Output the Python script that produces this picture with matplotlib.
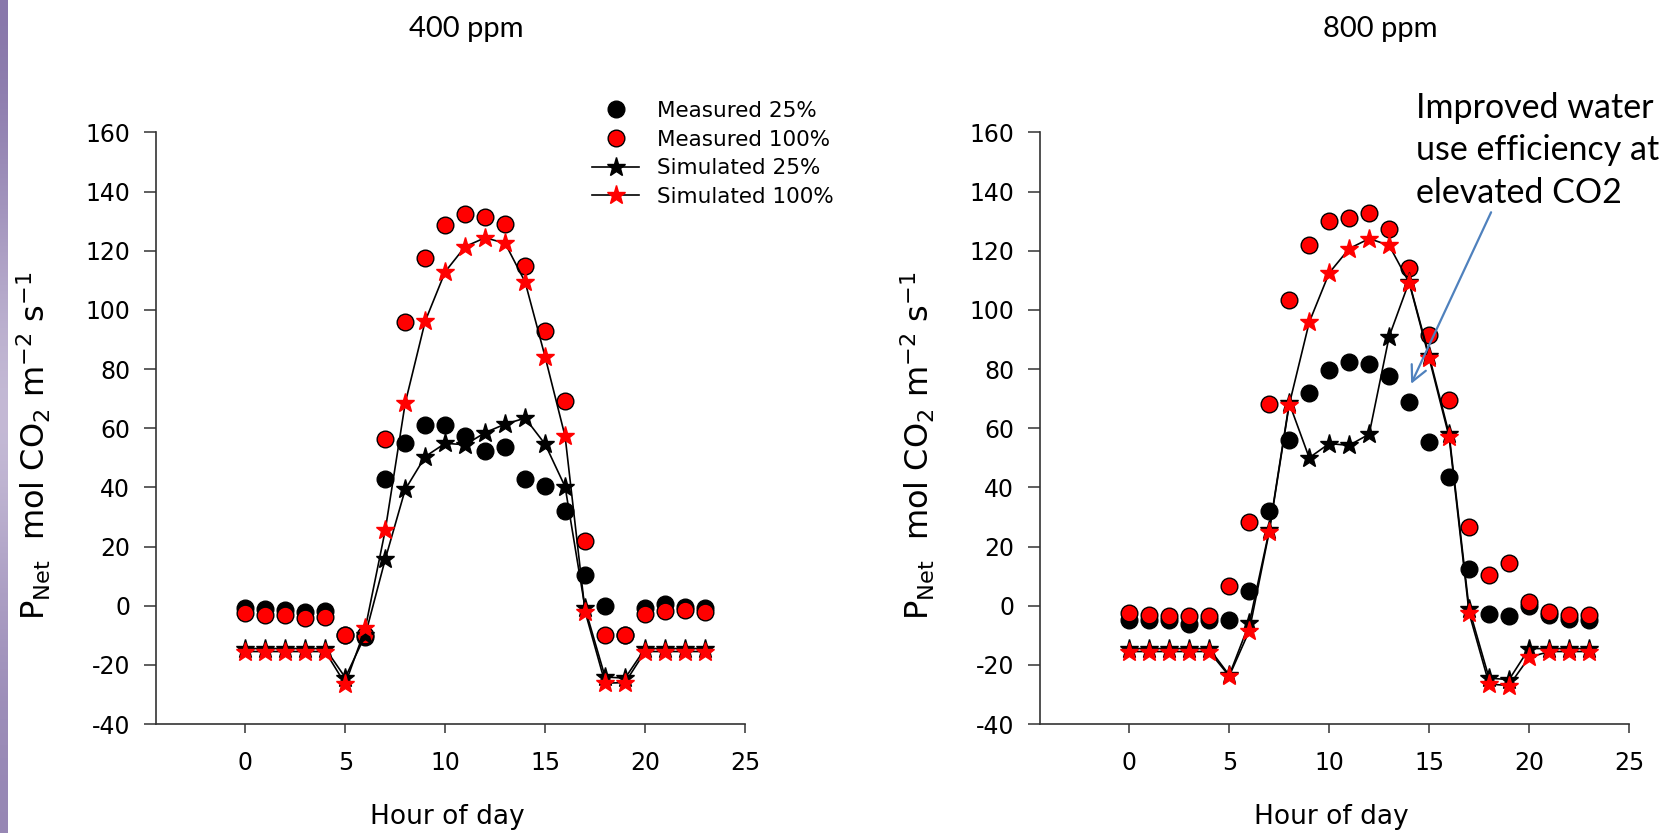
import matplotlib
matplotlib.use("Agg")
import matplotlib.pyplot as plt
import numpy as np
from matplotlib.colors import LinearSegmentedColormap

plt.rcParams['axes.unicode_minus'] = False

hours = list(range(24))

# 400 ppm
meas25_400 = [-0.9, -1.2, -1.5, -2.0, -1.7, -10, -10.5, 42.7, 54.9, 61.2, 61.2, 57.4,
              52.3, 53.7, 42.9, 40.4, 31.9, 10.4, 0.0, -10, -0.9, 0.6, -0.3, -0.9]
meas100_400 = [-2.6, -3.2, -3.2, -4.0, -3.7, -10, -10, 56.5, 95.9, 117.6, 128.6, 132.5,
               131.5, 129.2, 115.0, 93.0, 69.3, 22.0, -10, -10, -2.9, -1.7, -1.5, -2.0]
sim25_400 = [-14.5, -14.5, -14.5, -14.5, -14.5, -24.3, -10, 15.7, 39.3, 50.4, 54.9, 54.4,
             58.5, 61.4, 63.4, 54.6, 40.2, -0.9, -24.1, -24.5, -14.5, -14.5, -14.5, -14.5]
sim100_400 = [-15.5, -15.5, -15.5, -15.5, -15.5, -26.5, -7.7, 25.5, 68.5, 96.2, 112.9, 121.4,
              124.4, 122.5, 109.4, 84.1, 57.2, -2.0, -26.2, -26.0, -15.5, -15.5, -15.5, -15.5]

# 800 ppm
meas25_800 = [-4.8, -4.8, -5.0, -6.3, -5.0, -5.0, 4.9, 32.0, 55.9, 71.9, 79.8, 82.3,
              81.8, 77.7, 68.7, 55.4, 43.5, 12.3, -2.7, -3.6, 0.0, -3.0, -4.5, -5.0]
meas100_800 = [-2.5, -3.0, -3.5, -3.5, -3.5, 6.8, 28.3, 68.2, 103.5, 122.1, 130.1, 131.0,
               132.7, 127.5, 114.0, 91.6, 69.6, 26.5, 10.3, 14.4, 1.3, -2.0, -3.1, -3.1]
sim25_800 = [-14.5, -14.5, -14.5, -14.5, -14.5, -23.5, -6.0, 25.5, 68.5, 50.0, 54.8, 54.2,
             58.0, 91.0, 109.5, 84.5, 58.0, -1.0, -24.5, -25.0, -14.5, -14.5, -14.5, -14.5]
sim100_800 = [-15.5, -15.5, -15.5, -15.5, -15.5, -23.8, -8.5, 25.0, 68.0, 95.8, 112.5, 120.7,
              124.1, 121.8, 109.2, 83.7, 57.0, -2.5, -26.5, -27.0, -17.5, -15.5, -15.5, -15.5]

W, H = 1673, 833
fig = plt.figure(figsize=(W / 100, H / 100), dpi=100)

# purple strip on the left edge
strip = fig.add_axes([0, 0, 8 / W, 1])
grad = np.array([[0.0], [0.5], [1.0], [0.5], [0.2]])
cm = LinearSegmentedColormap.from_list("strip", ["#8877aa", "#cfc6dd"])
strip.imshow(grad, aspect="auto", cmap=cm, interpolation="bicubic")
strip.axis("off")

ax_w = 589 / W
ax_h = 591.6 / H
ax_b = 1 - 724 / H
ax1 = fig.add_axes([156 / W, ax_b, ax_w, ax_h])
ax2 = fig.add_axes([1040 / W, ax_b, ax_w, ax_h])

ylabel = r"P$_{\mathrm{Net}}$  mol CO$_2$ m$^{-2}$ s$^{-1}$"

for ax, m25, m100, s25, s100 in [(ax1, meas25_400, meas100_400, sim25_400, sim100_400),
                                 (ax2, meas25_800, meas100_800, sim25_800, sim100_800)]:
    ax.plot(hours, m25, 'o', color='black', markersize=12, markeredgecolor='black',
            label='Measured 25%', clip_on=False)
    ax.plot(hours, m100, 'o', color='red', markersize=12, markeredgecolor='black',
            markeredgewidth=1, label='Measured 100%', clip_on=False)
    ax.plot(hours, s25, '-*', color='black', lw=1.2, markersize=14,
            label='Simulated 25%', clip_on=False)
    ax.plot(hours, s100, '-*', color='black', lw=1.2, markersize=14, markerfacecolor='red',
            markeredgecolor='red', label='Simulated 100%', clip_on=False)
    ax.set_xlim(-4.47, 25)
    ax.set_ylim(-40, 160)
    ax.set_xticks([0, 5, 10, 15, 20, 25])
    ax.set_yticks(range(-40, 161, 20))
    for s in ['top', 'right']:
        ax.spines[s].set_visible(False)
    for s in ['left', 'bottom']:
        ax.spines[s].set_color('#333333')
        ax.spines[s].set_linewidth(1.2)
    ax.tick_params(axis='y', direction='out', length=8.5, width=1.1, pad=10,
                   labelsize=17, color='#333333')
    ax.tick_params(axis='x', direction='out', length=6.5, width=1.1, pad=13,
                   labelsize=17, color='#333333')
    ax.set_xlabel('Hour of day', fontsize=19)
    ax.xaxis.set_label_coords(0.495, -0.135)
    ax.set_ylabel(ylabel, fontsize=23)
    ax.yaxis.set_label_coords(-0.175, 0.47)

ax1.legend(loc='upper left', bbox_to_anchor=(592 / W, 1 - 101 / H),
           bbox_transform=fig.transFigure, frameon=False, fontsize=15.5,
           handlelength=2.2, handletextpad=0.8, labelspacing=0.4, borderpad=0,
           borderaxespad=0)

fig.text(466 / W, 1 - 29 / H, '400 ppm', ha='center', va='center',
         fontsize=21, family='Lato')
fig.text(1380 / W, 1 - 29 / H, '800 ppm', ha='center', va='center',
         fontsize=21, family='Lato')

fig.text(1416 / W, 1 - 92 / H, 'Improved water\nuse efficiency at\nelevated CO2',
         ha='left', va='top', fontsize=24.5, family='Lato', linespacing=1.4)
ax2.annotate('', xy=(14.1, 75), xytext=(18.1, 133),
             arrowprops=dict(arrowstyle='->', color='#4F81BD', lw=1.6,
                             mutation_scale=28, shrinkA=0, shrinkB=0))

fig.savefig('out.png', dpi=100)
